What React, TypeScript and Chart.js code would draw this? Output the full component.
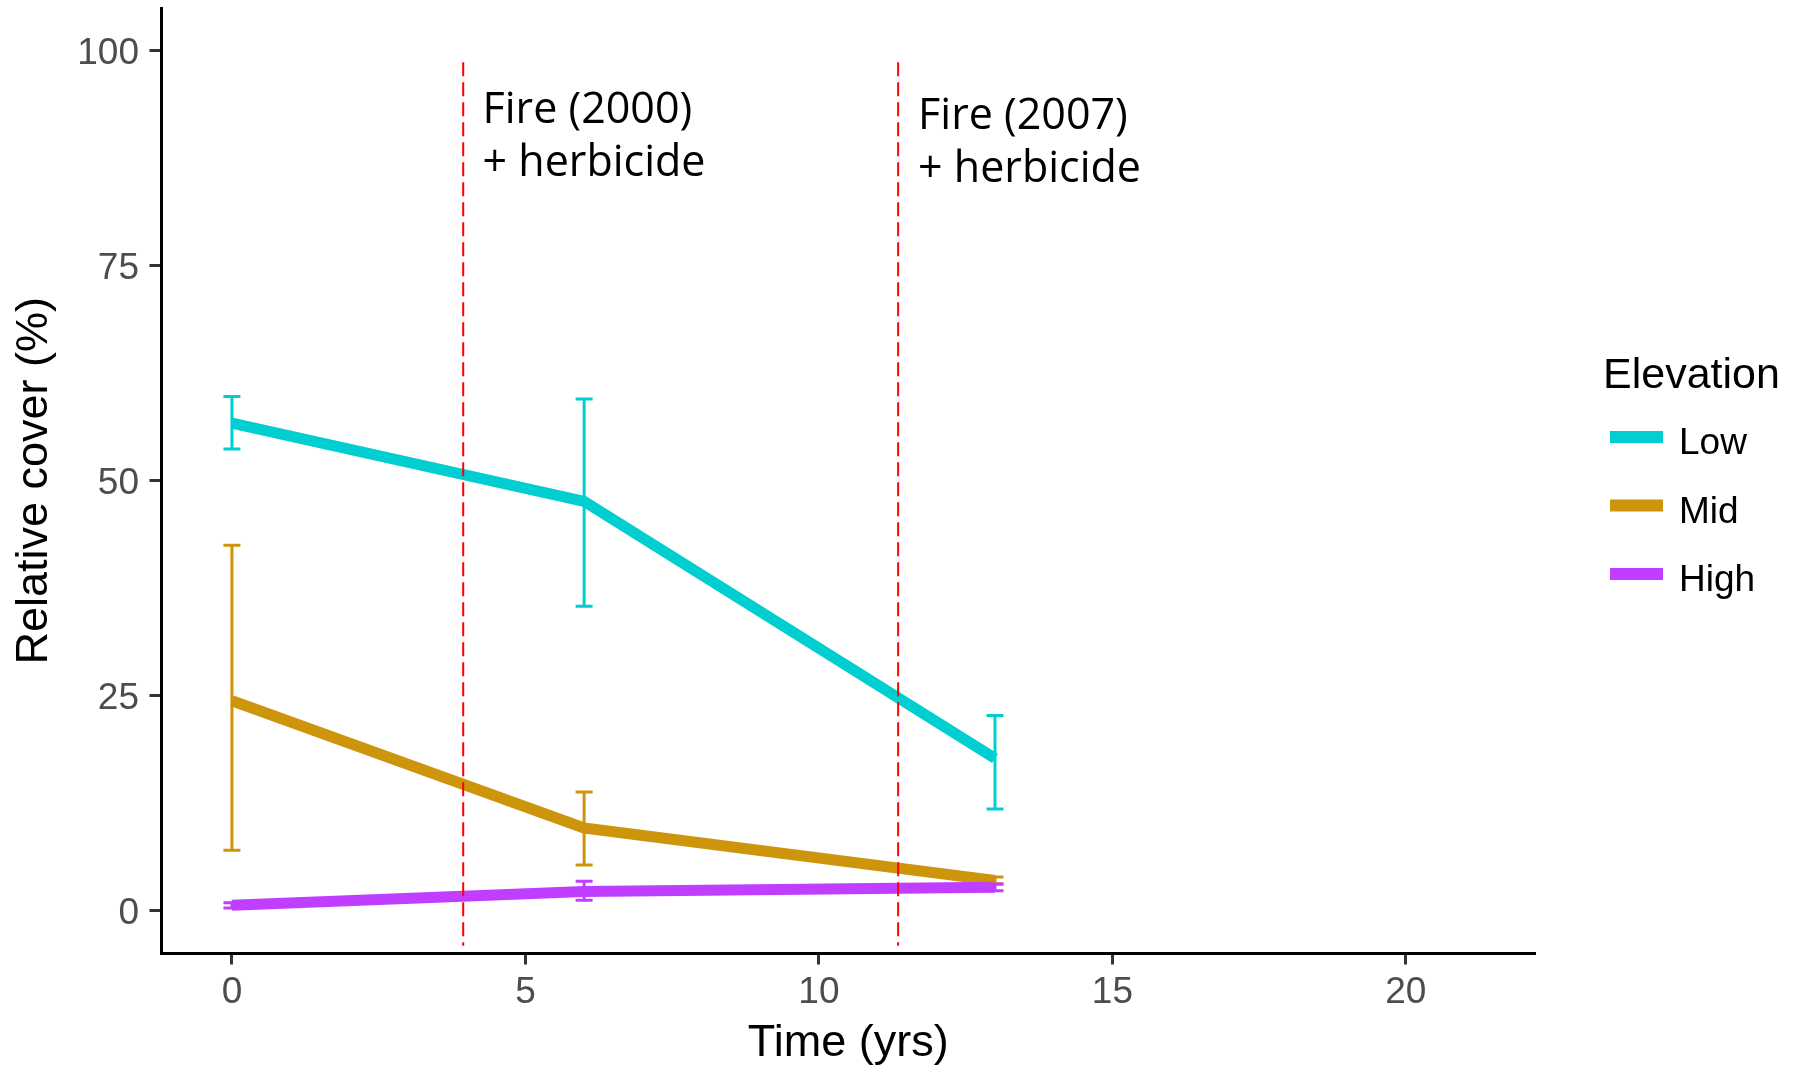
import React, { useEffect, useRef } from "react";
import { Chart, registerables } from "chart.js";

Chart.register(...registerables);

// ---- data ----
const seriesNames = ["Low", "Mid", "High"];
const seriesColors = ["#00CED1", "#CD950C", "#BF3EFF"];
const times = [0, 6, 13];

const lowMean = [56.7, 47.6, 17.7];
const lowLower = [53.7, 35.4, 11.8];
const lowUpper = [59.8, 59.5, 22.7];

const midMean = [24.4, 9.6, 3.5];
const midLower = [7.0, 5.3, 3.1];
const midUpper = [42.5, 13.8, 3.9];

const highMean = [0.6, 2.2, 2.7];
const highLower = [0.3, 1.2, 2.3];
const highUpper = [0.9, 3.4, 3.1];

const fireTimes = [3.94, 11.35];
const fireTop = 98.7;
const fireBottom = -4.1;

const noteX = [4.27, 11.69];
const noteY = [91.6, 90.9];
const noteLines = [
  ["Fire (2000)", "+ herbicide"],
  ["Fire (2007)", "+ herbicide"],
];

const xTicks = [0, 5, 10, 15, 20];
const yTicks = [0, 25, 50, 75, 100];

const legendTitle = "Elevation";
const xTitle = "Time (yrs)";
const yTitle = "Relative cover (%)";

const means = [lowMean, midMean, highMean];
const lowers = [lowLower, midLower, highLower];
const uppers = [lowUpper, midUpper, highUpper];

const AXIS_FONT = "'Liberation Sans', Arial, sans-serif";

const errorBarPlugin = {
  id: "errorBars",
  afterDatasetsDraw(chart: any) {
    const { ctx } = chart;
    const xs = chart.scales.x;
    const ys = chart.scales.y;
    chart.data.datasets.forEach((ds: any, i: number) => {
      const meta = chart.getDatasetMeta(i);
      if (meta.hidden) return;
      ctx.save();
      ctx.strokeStyle = ds.borderColor;
      ctx.lineWidth = 3;
      ctx.lineCap = "butt";
      ds.data.forEach((p: any) => {
        const px = xs.getPixelForValue(p.x);
        const yl = ys.getPixelForValue(p.lo);
        const yh = ys.getPixelForValue(p.hi);
        ctx.beginPath();
        ctx.moveTo(px, yl);
        ctx.lineTo(px, yh);
        ctx.moveTo(px - 8.5, yl);
        ctx.lineTo(px + 8.5, yl);
        ctx.moveTo(px - 8.5, yh);
        ctx.lineTo(px + 8.5, yh);
        ctx.stroke();
      });
      ctx.restore();
    });
  },
};

const firePlugin = {
  id: "fireLines",
  afterDatasetsDraw(chart: any) {
    const { ctx } = chart;
    const xs = chart.scales.x;
    const ys = chart.scales.y;
    ctx.save();
    ctx.strokeStyle = "#FF0000";
    ctx.lineWidth = 2;
    ctx.setLineDash([14, 6]);
    fireTimes.forEach((t) => {
      const px = xs.getPixelForValue(t);
      ctx.beginPath();
      ctx.moveTo(px, ys.getPixelForValue(fireTop));
      ctx.lineTo(px, ys.getPixelForValue(fireBottom));
      ctx.stroke();
    });
    ctx.setLineDash([]);
    ctx.fillStyle = "#000000";
    ctx.font = "43px 'Open Sans', sans-serif";
    ctx.textAlign = "left";
    ctx.textBaseline = "alphabetic";
    noteLines.forEach((lines, i) => {
      const px = xs.getPixelForValue(noteX[i]);
      const py = ys.getPixelForValue(noteY[i]);
      lines.forEach((ln, j) => {
        ctx.fillText(ln, px, py + j * 53.3);
      });
    });
    ctx.restore();
  },
};

const legendPlugin = {
  id: "customLegend",
  afterDraw(chart: any) {
    const { ctx, chartArea } = chart;
    const mid = (chartArea.top + chartArea.bottom) / 2;
    const right = chartArea.right;
    ctx.save();
    ctx.fillStyle = "#000000";
    ctx.textAlign = "left";
    ctx.textBaseline = "alphabetic";
    ctx.font = `43px ${AXIS_FONT}`;
    ctx.fillText(legendTitle, right + 68, mid - 92.75);
    ctx.font = `37px ${AXIS_FONT}`;
    chart.data.datasets.forEach((ds: any, i: number) => {
      const cy = mid - 43.75 + i * 68.5;
      ctx.fillStyle = ds.borderColor;
      ctx.fillRect(right + 75, cy - 6, 53, 12);
      ctx.fillStyle = "#000000";
      ctx.fillText(ds.label, right + 144, cy + 17);
    });
    ctx.restore();
  },
};

export default function App() {
  const canvasRef = useRef<HTMLCanvasElement | null>(null);

  useEffect(() => {
    const canvas = canvasRef.current;
    if (!canvas) return;
    const datasets = seriesNames.map((name, i) => ({
      label: name,
      data: times.map((t, k) => ({
        x: t,
        y: means[i][k],
        lo: lowers[i][k],
        hi: uppers[i][k],
      })),
      borderColor: seriesColors[i],
      backgroundColor: seriesColors[i],
      borderWidth: 11,
      pointRadius: 0,
      tension: 0,
      fill: false,
      order: seriesNames.length - i,
    }));

    const chart = new Chart(canvas, {
      type: "line",
      data: { datasets } as any,
      options: {
        animation: false,
        responsive: false,
        devicePixelRatio: 1,
        layout: { padding: { top: 8, right: 264, bottom: 0, left: 0 } },
        plugins: {
          legend: { display: false },
          tooltip: { enabled: false },
        },
        elements: {
          line: { borderCapStyle: "butt", borderJoinStyle: "round" },
        },
        scales: {
          x: {
            type: "linear",
            min: -1.2,
            max: 22.2,
            afterBuildTicks: (s: any) => {
              s.ticks = xTicks.map((v) => ({ value: v }));
            },
            afterFit: (s: any) => {
              s.height = 117.5;
              s.paddingLeft = 0;
              s.paddingRight = 0;
            },
            grid: {
              display: true,
              drawOnChartArea: false,
              drawTicks: true,
              tickLength: 11,
              tickWidth: 3,
              tickColor: "#333333",
            },
            border: { display: true, color: "#000000", width: 3 },
            ticks: {
              font: { family: AXIS_FONT, size: 37 },
              color: "#4D4D4D",
              padding: 6,
              maxRotation: 0,
              autoSkip: false,
              callback: (v: any) => String(v),
            },
            title: {
              display: true,
              text: xTitle,
              color: "#000000",
              font: { family: AXIS_FONT, size: 45 },
              padding: { top: 0, bottom: 0 },
            },
          },
          y: {
            type: "linear",
            min: -5,
            max: 105,
            afterBuildTicks: (s: any) => {
              s.ticks = yTicks.map((v) => ({ value: v }));
            },
            afterFit: (s: any) => {
              s.width = 161.5;
              s.paddingTop = 0;
              s.paddingBottom = 0;
            },
            grid: {
              display: true,
              drawOnChartArea: false,
              drawTicks: true,
              tickLength: 12,
              tickWidth: 3,
              tickColor: "#333333",
            },
            border: { display: true, color: "#000000", width: 3 },
            ticks: {
              font: { family: AXIS_FONT, size: 37 },
              color: "#4D4D4D",
              padding: 10.5,
              labelOffset: 3,
              autoSkip: false,
              callback: (v: any) => String(v),
            },
            title: {
              display: true,
              text: yTitle,
              color: "#000000",
              font: { family: AXIS_FONT, size: 45 },
              padding: { top: 7.5, bottom: 0 },
            },
          },
        },
      } as any,
      plugins: [errorBarPlugin, firePlugin, legendPlugin],
    });

    return () => {
      chart.destroy();
    };
  }, []);

  return (
    <div
      style={{
        position: "absolute",
        left: 0,
        top: 0,
        width: 1799,
        height: 1071,
        background: "#ffffff",
      }}
    >
      <canvas
        ref={canvasRef}
        width={1799}
        height={1071}
        style={{ display: "block", width: 1799, height: 1071 }}
      />
    </div>
  );
}
